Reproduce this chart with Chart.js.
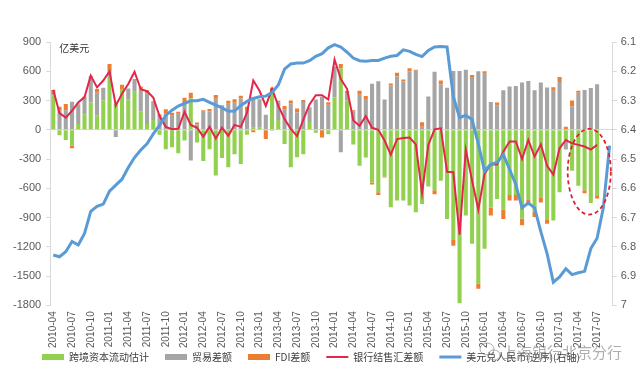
<!DOCTYPE html>
<html lang="zh">
<head>
<meta charset="UTF-8">
<title>跨境资本流动估计</title>
<script src="https://cdn.jsdelivr.net/npm/chart.js"></script>
<style>
  html, body { margin: 0; padding: 0; background: #fff; }
</style>
</head>
<body>
<canvas id="chartCanvas" width="640" height="379"></canvas>
<script>
// monthly categories, 2010-04 .. 2017-09 (a label every 3 months)
const months = []
for (let y = 2010, m = 4; months.length < 90; m++) {
  if (m > 12) { m = 1; y++ }
  months.push(y + "-" + String(m).padStart(2, "0"))
}

// 亿美元, 2010-04 .. 2017-07
const capitalFlow = [350,-55,-105,-165,60,160,280,150,300,540,
  270,410,310,390,190,60,100,-50,-200,-180,
  -240,-110,320,-130,-320,-200,-470,-290,-385,-250,
  -350,-50,20,20,0,390,100,-147,-385,-283,
  -250,80,-30,0,-45,330,630,300,-150,-370,
  -285,-540,-640,-480,-795,-726,-726,-777,-846,-760,
  -583,-620,-522,-914,-1130,-1780,-880,-1170,-1580,-1221,
  -800,-709,-820,-670,-670,-910,-720,-840,-700,-925,
  -931,-641,-110,-420,-573,-620,-750,-680]

const tradeBalance = [17,195,200,287,200,169,272,229,131,65,
  -73,1,114,131,223,315,178,145,170,145,
  165,273,-315,54,184,187,317,251,267,277,
  320,196,316,292,153,-9,182,204,271,178,
  285,152,311,338,256,319,-230,77,185,359,
  316,473,498,310,454,545,496,600,606,31,
  341,595,465,430,602,603,616,541,601,575,
  286,250,406,443,450,484,501,406,484,433,
  400,490,-92,240,380,408,428,467]

const fdiBalance = [40,40,65,-25,10,10,0,40,0,70,
  0,50,0,0,30,30,15,15,40,30,
  20,55,60,20,15,25,40,0,30,35,
  30,40,-25,0,-95,40,15,40,30,40,
  20,0,0,-80,25,0,45,20,15,40,
  30,-20,-30,-10,20,40,20,30,10,45,
  0,-40,40,0,-60,0,0,20,-50,25,
  -80,30,-95,-55,-55,-70,-55,-55,-45,-40,
  35,50,30,60,20,-30,0,-25]

const settlement = [410,170,125,195,280,335,555,435,505,600,
  250,370,470,595,415,395,330,140,30,5,
  10,185,50,20,-70,30,-90,20,-60,50,
  30,175,505,400,245,420,245,110,10,-65,
  105,260,355,355,310,720,520,420,95,40,
  140,20,0,-110,-256,-95,-85,-80,-150,-650,
  -155,5,15,-430,-435,-1075,-205,-520,-820,-450,
  -355,-355,-225,-120,-120,-300,-105,-275,-150,-370,
  -460,-190,-105,-140,-155,-172,-203,-155]

// USD/CNY, right axis (reversed), 2010-04 .. 2017-09
const usdCny = [6.828,6.834,6.817,6.782,6.794,6.754,6.679,6.662,6.654,6.61,
  6.589,6.569,6.529,6.495,6.469,6.448,6.414,6.385,6.351,6.333,
  6.319,6.31,6.301,6.301,6.296,6.306,6.316,6.325,6.337,6.336,
  6.317,6.303,6.293,6.287,6.285,6.273,6.247,6.193,6.175,6.172,
  6.172,6.164,6.149,6.14,6.12,6.109,6.117,6.135,6.155,6.164,
  6.166,6.163,6.163,6.155,6.149,6.146,6.127,6.132,6.142,6.15,
  6.129,6.117,6.115,6.117,6.287,6.358,6.351,6.365,6.448,6.541,
  6.517,6.512,6.485,6.535,6.587,6.667,6.65,6.667,6.748,6.823,
  6.921,6.903,6.875,6.895,6.889,6.884,6.806,6.771,6.667,6.454]

// red dashed ring round the last months (category index / value range)
const ring = { fromIndex: 82.3, toIndex: 89.2, top: 10, bottom: -870 }

const tickFont = { family: "'Liberation Sans', Arial", size: 11 }
const cjk = "'Noto Sans CJK SC', sans-serif"

const notes = {
  id: "notes",
  afterDatasetsDraw(chart) {
    const c = chart.ctx
    const x = chart.scales.x, y = chart.scales.y
    const x1 = x.getPixelForValue(ring.fromIndex), x2 = x.getPixelForValue(ring.toIndex)
    const y1 = y.getPixelForValue(ring.top), y2 = y.getPixelForValue(ring.bottom)
    c.save()
    c.strokeStyle = "#E0202E"
    c.lineWidth = 1.8
    c.setLineDash([4, 3])
    c.beginPath()
    c.ellipse((x1 + x2) / 2, (y1 + y2) / 2, (x2 - x1) / 2, (y2 - y1) / 2, 0, 0, Math.PI * 2)
    c.stroke()
    c.restore()
  },
  afterDraw(chart) {
    const c = chart.ctx
    const area = chart.chartArea
    c.save()
    c.fillStyle = "#333"
    c.font = "10px " + cjk
    c.textBaseline = "middle"
    c.fillText("亿美元", area.left + 9, area.top + 6)

    // legend: bars as boxes, lines as strokes
    let lx = 42
    const ly = 357
    c.font = "10px " + cjk
    chart.data.datasets.forEach(ds => {
      if (ds.type === "bar") {
        c.fillStyle = ds.backgroundColor
        c.fillRect(lx, ly - 3, 22, 6)
      } else {
        c.strokeStyle = ds.borderColor
        c.lineWidth = ds.borderWidth
        c.beginPath()
        c.moveTo(lx, ly)
        c.lineTo(lx + 22, ly)
        c.stroke()
      }
      c.fillStyle = "#404040"
      c.fillText(ds.label, lx + 27, ly)
      lx += 27 + c.measureText(ds.label).width + 16
    })

    // watermark
    c.fillStyle = "rgba(120,120,120,0.6)"
    c.font = "15px " + cjk
    c.fillText("上海银行北京分行", 502, 352)
    c.strokeStyle = "rgba(120,120,120,0.6)"
    c.lineWidth = 1
    c.beginPath()
    c.ellipse(487, 349, 7, 6, 0, 0, Math.PI * 2)
    c.stroke()
    c.beginPath()
    c.ellipse(494, 355, 6, 5, 0, 0, Math.PI * 2)
    c.stroke()
    c.restore()
  }
}

const ctx = document.getElementById("chartCanvas").getContext("2d")
new Chart(ctx, {
  data: {
    labels: months,
    datasets: [
      { type: "bar", label: "跨境资本流动估计", data: capitalFlow, backgroundColor: "#92D050", stack: "bars", order: 3 },
      { type: "bar", label: "贸易差额", data: tradeBalance, backgroundColor: "#A5A5A5", stack: "bars", order: 3 },
      { type: "bar", label: "FDI差额", data: fdiBalance, backgroundColor: "#ED7D31", stack: "bars", order: 3 },
      { type: "line", label: "银行结售汇差额", data: settlement, borderColor: "#E3264A", backgroundColor: "#E3264A",
        borderWidth: 2, pointRadius: 0, tension: 0, stack: "red", order: 1 },
      { type: "line", label: "美元兑人民币(逆序)(右轴)", data: usdCny, borderColor: "#5B9BD5", backgroundColor: "#5B9BD5",
        borderWidth: 3, pointRadius: 0, tension: 0, yAxisID: "y1", order: 0 }
    ]
  },
  options: {
    responsive: false,
    animation: false,
    layout: { padding: { left: 8, right: 0, top: 42, bottom: 25 } },
    datasets: { bar: { barPercentage: 0.65, categoryPercentage: 1 } },
    plugins: {
      tooltip: { enabled: false },
      legend: { display: false }
    },
    scales: {
      x: {
        stacked: true,
        grid: { display: false, drawTicks: false },
        border: { display: false },
        ticks: {
          autoSkip: false, maxRotation: 90, minRotation: 90, padding: 6,
          color: "#595959", font: { family: tickFont.family, size: 10 },
          callback: (v, i) => i % 3 === 0 ? months[i] : ""
        }
      },
      y: {
        stacked: true, min: -1800, max: 900,
        ticks: { stepSize: 300, color: "#595959", font: tickFont, padding: 5, callback: v => v },
        grid: {
          color: c => c.tick && c.tick.value === 0 ? "#D9D9D9" : "rgba(0,0,0,0)",
          tickColor: "#D9D9D9", tickLength: 4
        },
        border: { color: "#D9D9D9" }
      },
      y1: {
        position: "right", reverse: true, min: 6.1, max: 7,
        ticks: { stepSize: 0.1, color: "#595959", font: tickFont, padding: 4,
          callback: v => String(Math.round(v * 10) / 10) },
        grid: { drawOnChartArea: false, color: "#D9D9D9", tickLength: 4 },
        border: { color: "#D9D9D9" }
      }
    }
  },
  plugins: [notes]
})
</script>
</body>
</html>
